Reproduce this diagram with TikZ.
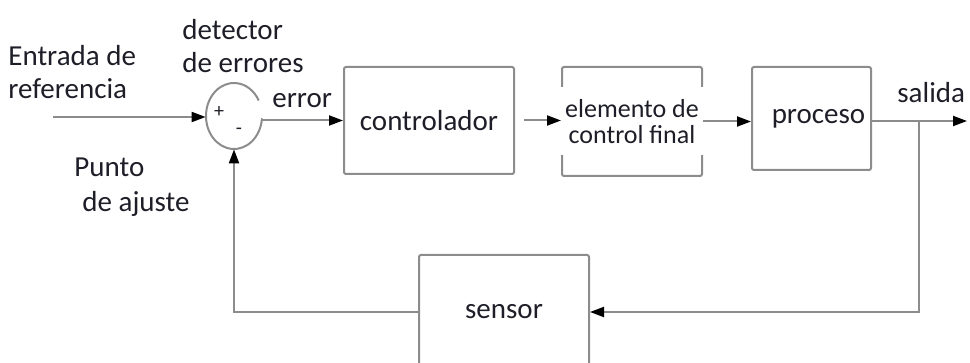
\documentclass[tikz,border=0pt]{standalone}
\usepackage{fontspec}
\setmainfont{Carlito}
\usetikzlibrary{arrows.meta}
\usetikzlibrary{shapes.geometric}

\definecolor{linegray}{HTML}{8C8C8C}
\definecolor{ink}{HTML}{1E1E28}

\begin{document}
\begin{tikzpicture}[x=0.5pt, y=0.5pt,
    >={Triangle[length=7pt, width=5pt, color=black]},
    wire/.style={draw=linegray, line width=1pt},
    block/.style={draw=linegray, line width=1pt, rounded corners=1pt,
                  inner sep=0pt, text=ink,
                  font=\fontsize{14.5}{16.5}\selectfont},
    lbl/.style={text=ink, inner sep=0pt,
                font=\fontsize{14.5}{16.5}\selectfont},
    sign/.style={text=ink, inner sep=0pt, font=\fontsize{10}{10}\selectfont}]
  \clip (0,0) rectangle (970,-363);

  % blocks
  \node[block, minimum width=85pt, minimum height=53.5pt] (ctrl)
    at (429,-120.5) {controlador};
  \node[block, minimum width=70pt, minimum height=54.5pt] (elem)
    at (632,-121.5) {};
  \node[fill=white, text=ink, inner sep=0pt, align=center,
        minimum width=76pt, minimum height=34pt,
        font=\fontsize{13}{13}\selectfont] (elemtxt)
    at (elem.center) {elemento de\\control final};
  \node[block, minimum width=59.5pt, minimum height=51.5pt] (proc)
    at (811.5,-118.5) {\hspace{7pt}proceso};
  \node[block, minimum width=85pt, minimum height=57pt] (sens)
    at (504,-312) {sensor};

  % summing junction, left open at the top right
  \node[ellipse, minimum width=28pt, minimum height=33pt] (sum)
    at (234,-116) {};
  \draw[wire] (sum.center) ++(-4:28 and 33)
    arc[start angle=-4, end angle=-332, x radius=28, y radius=33];
  \node[sign] (plus) at (219,-112) {+};
  \node[sign] (minus) at (239,-131) {-};

  % signal path
  \coordinate (ref) at (53,-117);
  \coordinate (tap) at (919,-121);
  \coordinate (out) at (967,-121);
  \draw[wire, ->] (ref) -- (ref -| sum.west);
  \draw[wire, ->] (sum.east |- ctrl.west) -- (ctrl.west);
  \draw[wire, ->, shorten <=4.5pt] (ctrl.east) -- (ctrl.east -| elem.west);
  \draw[wire, ->] (elem.east) -- (elem.east -| proc.west);
  \draw[wire, ->] (proc.east |- out) -- (out);
  % feedback
  \draw[wire, ->] (tap) |- (sens.east);
  \draw[wire, ->] (sens.west) -| (sum.south);

  % labels
  \node[lbl, anchor=west, align=left] (entrada) at (8,-72)
    {Entrada de\\referencia};
  \node[lbl, anchor=west, align=left] (detector) at (182,-46)
    {detector\\de errores};
  \node[lbl, anchor=base west] (error) at (272,-108) {error};
  \node[lbl, anchor=base west] (punto) at (74,-177) {Punto};
  \node[lbl, anchor=base west] (ajuste) at (82,-212) {de ajuste};
  \node[lbl, anchor=base west] (salida) at (897,-103) {salida};
\end{tikzpicture}
\end{document}
